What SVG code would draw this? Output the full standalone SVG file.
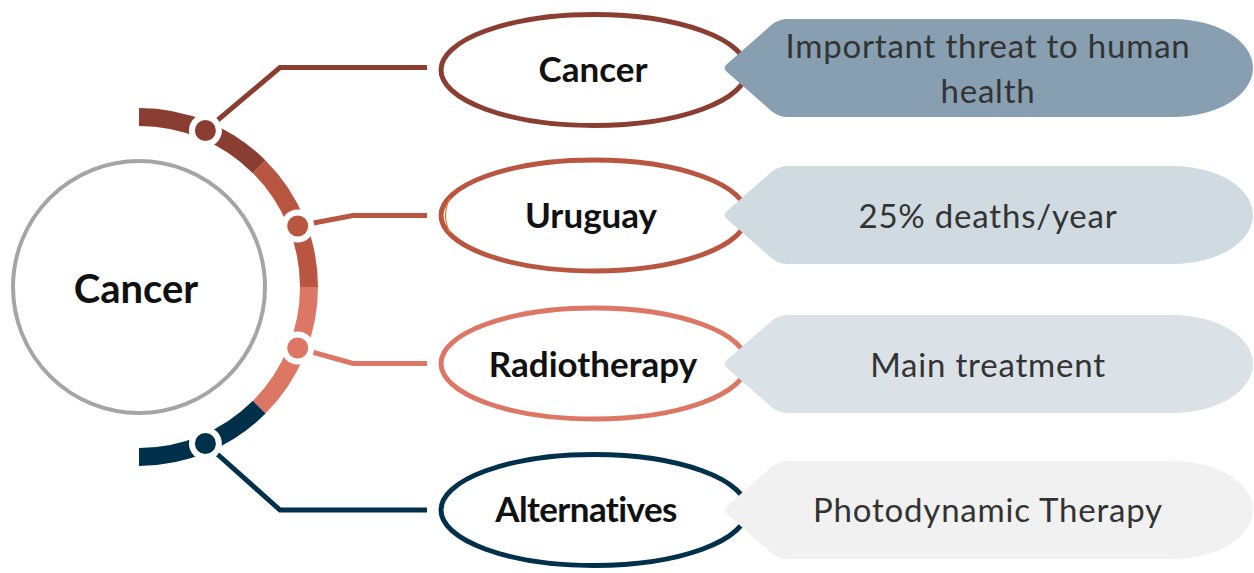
<svg xmlns="http://www.w3.org/2000/svg" width="1254" height="573" viewBox="0 0 1254 573">
  <style>
    .ring { fill: none; stroke-width: 18; }
    .link { fill: none; stroke-width: 5; stroke-linejoin: miter; }
    .oval { fill: #ffffff; stroke-width: 5; }
    .label { font-family: Lato, "Liberation Sans", sans-serif; font-weight: bold; font-size: 35px; fill: #111111; text-anchor: middle; }
    .note { font-family: Lato, "Open Sans", "Liberation Sans", sans-serif; font-size: 33px; letter-spacing: 0.8px; fill: #333333; text-anchor: middle; }
    .c1 { stroke: #8a3e31; }
    .c2 { stroke: #b85642; }
    .c3 { stroke: #dc7766; }
    .c4 { stroke: #00304a; }
  </style>
  <defs>
    <!-- tag-shaped callout, centred on y = 0 -->
    <path id="tag" d="M 788 -49 L 1173 -49 A 80 49 0 0 1 1173 49 L 788 49 Q 779 49 772 43.5 L 727 4 Q 722 0 727 -4 L 772 -43.5 Q 779 -49 788 -49 Z"/>
  </defs>
  <rect width="1254" height="573" fill="#ffffff"/>

  <!-- central hub -->
  <g id="hub">
    <circle cx="139" cy="287" r="126" fill="#ffffff" stroke="#a5a5a5" stroke-width="4"/>
    <text class="label" x="136" y="303" style="font-size:40px">Cancer</text>
  </g>

  <!-- segmented ring around the hub -->
  <g id="ring">
    <path class="ring c1" d="M 139 117 A 170 170 0 0 1 259.2 166.8"/>
    <path class="ring c2" d="M 259.2 166.8 A 170 170 0 0 1 309 287"/>
    <path class="ring c3" d="M 309 287 A 170 170 0 0 1 259.2 407.2"/>
    <path class="ring c4" d="M 259.2 407.2 A 170 170 0 0 1 139 457"/>
  </g>

  <!-- connectors from ring to the topic ovals -->
  <g id="connectors">
    <polyline class="link c1" points="205.4,130.5 280,67.5 427,67.5"/>
    <polyline class="link c2" points="297.7,226 353,215.5 427,215.5"/>
    <polyline class="link c3" points="297.7,348 353,363.5 427,363.5"/>
    <polyline class="link c4" points="205.4,443.5 280,510 427,510"/>
  </g>

  <!-- anchor dots on the ring -->
  <g id="dots">
    <circle cx="205.4" cy="130.5" r="16.5" fill="#ffffff"/>
    <circle cx="205.4" cy="130.5" r="10.5" fill="#8a3e31"/>
    <circle cx="297.7" cy="226" r="16.5" fill="#ffffff"/>
    <circle cx="297.7" cy="226" r="10.5" fill="#b85642"/>
    <circle cx="297.7" cy="348" r="16.5" fill="#ffffff"/>
    <circle cx="297.7" cy="348" r="10.5" fill="#dc7766"/>
    <circle cx="205.4" cy="443.5" r="16.5" fill="#ffffff"/>
    <circle cx="205.4" cy="443.5" r="10.5" fill="#00304a"/>
  </g>

  <!-- topic ovals -->
  <g id="node-cancer">
    <ellipse class="oval c1" cx="594" cy="70" rx="153" ry="55.5"/>
    <text class="label" x="593" y="82">Cancer</text>
  </g>
  <g id="node-uruguay">
    <ellipse class="oval c2" cx="594" cy="215.5" rx="153" ry="55.5"/>
    <path d="M 450 198 Q 441 215.5 450 233" fill="none" stroke="#e8761e" stroke-width="1.2"/>
    <text class="label" x="591" y="228">Uruguay</text>
  </g>
  <g id="node-radiotherapy">
    <ellipse class="oval c3" cx="594" cy="363.5" rx="153" ry="55.5"/>
    <text class="label" x="593" y="377">Radiotherapy</text>
  </g>
  <g id="node-alternatives">
    <ellipse class="oval c4" cx="594" cy="510" rx="153" ry="55.5"/>
    <text class="label" x="586" y="522" style="letter-spacing:-0.6px">Alternatives</text>
  </g>

  <!-- callouts -->
  <g id="note-threat">
    <use href="#tag" transform="translate(0,68)" fill="#879fb1"/>
    <text class="note" x="988" y="58">Important threat to human</text>
    <text class="note" x="988" y="103">health</text>
  </g>
  <g id="note-deaths">
    <use href="#tag" transform="translate(0,215)" fill="#cfdae1"/>
    <text class="note" x="988" y="228">25% deaths/year</text>
  </g>
  <g id="note-treatment">
    <use href="#tag" transform="translate(0,364)" fill="#dae1e7"/>
    <text class="note" x="988" y="377">Main treatment</text>
  </g>
  <g id="note-pdt">
    <use href="#tag" transform="translate(0,510)" fill="#f1f1f1"/>
    <text class="note" x="988" y="522">Photodynamic Therapy</text>
  </g>
</svg>
